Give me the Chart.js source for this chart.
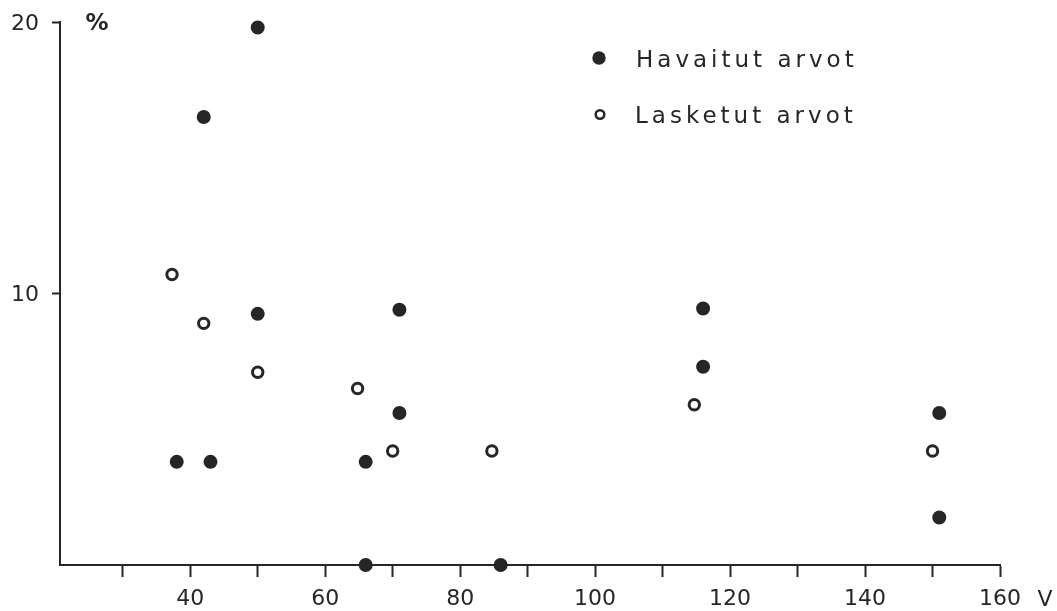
<!DOCTYPE html>
<html>
<head>
<meta charset="utf-8">
<script src="https://cdn.jsdelivr.net/npm/chart.js@4/dist/chart.umd.min.js"></script>
<style>
  html, body { margin: 0; padding: 0; background: #ffffff; }
  #wrap { width: 1057px; height: 611px; position: relative; }
</style>
</head>
<body>
<div id="wrap"><canvas id="c" width="1057" height="611"></canvas></div>
<script>
// ---- Data ----
const observedX = [50, 42, 50, 38, 43, 71, 71, 66, 66, 86, 116, 116, 151, 151];
const observedY = [19.8, 16.5, 9.25, 3.8, 3.8, 9.4, 5.6, 3.8, 0, 0, 9.45, 7.3, 5.6, 1.75];
const computedX = [37.3, 42, 50, 64.8, 70, 84.7, 114.7, 150];
const computedY = [10.7, 8.9, 7.1, 6.5, 4.2, 4.2, 5.9, 4.2];

const xTicks = [30, 40, 50, 60, 70, 80, 90, 100, 110, 120, 130, 140, 150, 160];
const xTickLabels = ['40', '60', '80', '100', '120', '140', '160'];
const yTicks = [10, 20];
const yTickLabels = ['10', '20'];

const seriesNames = ['Havaitut arvot', 'Lasketut arvot'];
const xUnit = 'V';
const yUnit = '%';

const INK = '#262626';
const FONT = '"DejaVu Sans", sans-serif';

const toPoints = (xs, ys) => xs.map((x, i) => ({ x: x, y: ys[i] }));

const annotations = {
  id: 'annotations',
  afterDraw(chart) {
    const ctx = chart.ctx;
    const a = chart.chartArea;
    ctx.save();
    ctx.fillStyle = INK;
    ctx.strokeStyle = INK;
    // unit labels
    ctx.font = 'bold 23px ' + FONT;
    ctx.textAlign = 'center';
    ctx.textBaseline = 'middle';
    ctx.fillText(yUnit, a.left + 37, a.top + 2);
    ctx.font = '22px ' + FONT;
    ctx.fillText(xUnit, a.right + 45, a.bottom + 35);
    // legend
    const lx = a.left + 539;
    const ly1 = a.top + 36;
    const ly2 = a.top + 92.5;
    ctx.beginPath();
    ctx.arc(lx, ly1, 6.7, 0, Math.PI * 2);
    ctx.fill();
    ctx.beginPath();
    ctx.lineWidth = 2.5;
    ctx.arc(lx + 1, ly2, 4.3, 0, Math.PI * 2);
    ctx.stroke();
    ctx.font = '23px ' + FONT;
    ctx.textAlign = 'left';
    ctx.textBaseline = 'alphabetic';
    try { ctx.letterSpacing = '4px'; } catch (e) {}
    ctx.fillText(seriesNames[0], lx + 37, ly1 + 8.5);
    ctx.fillText(seriesNames[1], lx + 36, ly2 + 8.5);
    ctx.restore();
  }
};

new Chart(document.getElementById('c'), {
  type: 'scatter',
  data: {
    datasets: [
      {
        label: seriesNames[0],
        data: toPoints(observedX, observedY),
        pointStyle: 'circle',
        pointRadius: 6,
        pointBorderWidth: 2,
        pointBackgroundColor: INK,
        pointBorderColor: INK,
        pointHoverRadius: 6,
        clip: false
      },
      {
        label: seriesNames[1],
        data: toPoints(computedX, computedY),
        pointStyle: 'circle',
        pointRadius: 5.2,
        pointBorderWidth: 3,
        pointBackgroundColor: '#ffffff',
        pointBorderColor: INK,
        pointHoverRadius: 5.2,
        clip: false
      }
    ]
  },
  options: {
    responsive: false,
    animation: false,
    events: [],
    layout: { padding: { top: 22, right: 57, bottom: 0, left: 0 } },
    plugins: {
      legend: { display: false },
      tooltip: { enabled: false },
      title: { display: false }
    },
    scales: {
      x: {
        type: 'linear',
        min: 20.7,
        max: 160,
        afterBuildTicks: (s) => { s.ticks = xTicks.map(v => ({ value: v })); },
        afterFit: (s) => { s.height = 46; s.paddingLeft = 0; s.paddingRight = 0; },
        border: { display: true, color: INK, width: 2 },
        grid: {
          display: true,
          drawOnChartArea: false,
          drawTicks: true,
          tickLength: 12,
          tickWidth: 2,
          tickColor: INK
        },
        ticks: {
          autoSkip: false,
          maxRotation: 0,
          padding: 9,
          color: INK,
          font: { family: FONT, size: 22 },
          callback: (v) => {
            const s = String(v);
            return xTickLabels.includes(s) ? s : '';
          }
        }
      },
      y: {
        type: 'linear',
        min: 0,
        max: 20,
        afterBuildTicks: (s) => { s.ticks = yTicks.map(v => ({ value: v })); },
        afterFit: (s) => { s.width = 60; s.paddingTop = 0; s.paddingBottom = 0; },
        border: { display: true, color: INK, width: 2 },
        grid: {
          display: true,
          drawOnChartArea: false,
          drawTicks: true,
          tickLength: 8,
          tickWidth: 2,
          tickColor: INK
        },
        ticks: {
          autoSkip: false,
          padding: 13,
          labelOffset: 2,
          color: INK,
          font: { family: FONT, size: 22 },
          callback: (v) => {
            const s = String(v);
            return yTickLabels.includes(s) ? s : '';
          }
        }
      }
    }
  },
  plugins: [annotations]
});
</script>
</body>
</html>
